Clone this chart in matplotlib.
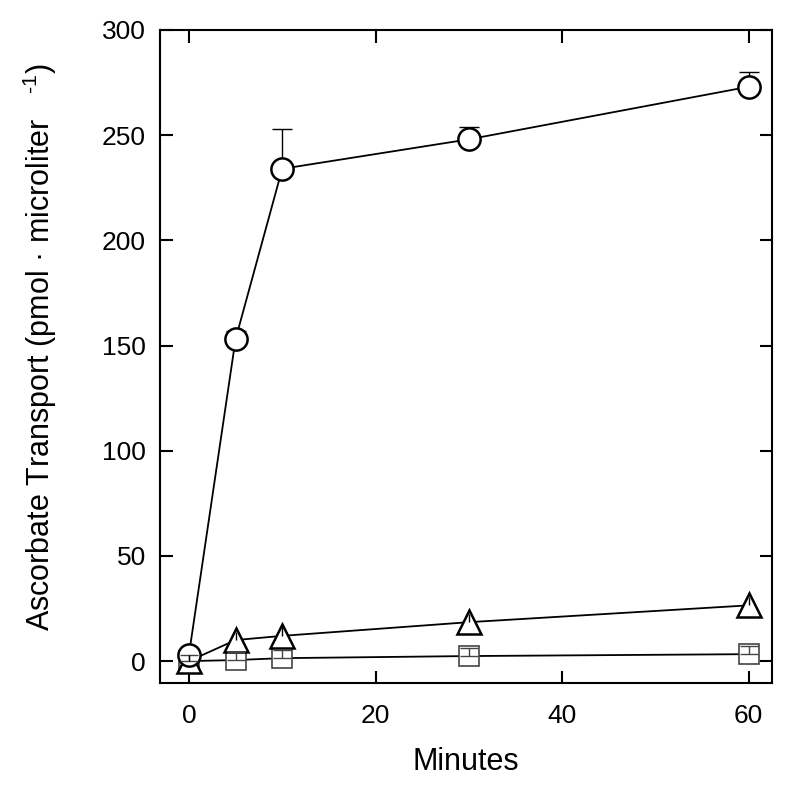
import matplotlib.pyplot as plt
import numpy as np

plt.rcParams['font.family'] = ['Liberation Sans', 'DejaVu Sans']
plt.rcParams['mathtext.fontset'] = 'custom'
plt.rcParams['mathtext.rm'] = 'Liberation Sans'
plt.rcParams['mathtext.it'] = 'Liberation Sans'

# data
minutes = np.array([0, 5, 10, 30, 60])
circle_vals = np.array([3, 153, 234, 248, 273])
circle_err = np.array([0, 4, 19, 6, 7])
triangle_vals = np.array([0, 10, 12, 18.5, 26.5])
triangle_err = np.array([3, 4, 4, 4, 4])
square_vals = np.array([0, 0.5, 1.4, 2.4, 3.3])
square_err = np.array([3, 4, 4, 4, 4])

fig = plt.figure(figsize=(8, 7.88), dpi=100)
ax = fig.add_axes([0.2, 0.133, 0.765, 0.829])

zeros = np.zeros_like(minutes)

# error bars of the circles sit behind the white markers
ax.errorbar(minutes, circle_vals, yerr=[zeros, circle_err], fmt='none',
            ecolor='black', elinewidth=1, capsize=7, capthick=1, zorder=2)

# lines with open markers
ax.plot(minutes, square_vals, color='black', lw=1.3, marker='s', ms=14,
        mfc='white', mec='#444444', mew=1.2, zorder=3)
ax.plot(minutes, triangle_vals, color='black', lw=1.3, marker='^', ms=17,
        mfc='white', mec='black', mew=1.8, zorder=3)
ax.plot(minutes, circle_vals, color='black', lw=1.3, marker='o', ms=16,
        mfc='white', mec='black', mew=1.8, zorder=3)

# small error bars show inside the triangles and squares
ax.errorbar(minutes, square_vals, yerr=[zeros, square_err], fmt='none',
            ecolor='#444444', elinewidth=1, capsize=6.5, capthick=1, zorder=4)
ax.errorbar(minutes, triangle_vals, yerr=[zeros, triangle_err], fmt='none',
            ecolor='black', elinewidth=1, capsize=0, zorder=4)

ax.set_xlim(-3.1, 62.5)
ax.set_ylim(-10.5, 300)
ax.set_xticks([0, 20, 40, 60])
ax.set_yticks([0, 50, 100, 150, 200, 250, 300])

ax.tick_params(direction='in', length=9, width=1.5, labelsize=19,
               top=True, right=True)
ax.tick_params(axis='x', pad=15)
ax.tick_params(axis='y', pad=10)
for s in ax.spines.values():
    s.set_linewidth(1.5)

ax.set_xlabel('Minutes', fontsize=22, labelpad=14)
ax.set_ylabel(r'Ascorbate Transport (pmol · microliter   $^{\text{-1}}$)', fontsize=22)
ax.yaxis.set_label_coords(-0.165, 0.515)

fig.savefig('out.png', dpi=100)
